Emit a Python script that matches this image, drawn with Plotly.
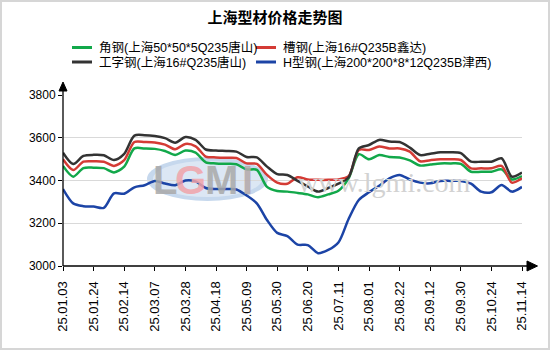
import plotly.graph_objects as go

dates = ["25.01.03","25.01.10","25.01.17","25.01.24","25.01.31","25.02.07","25.02.14","25.02.21",
         "25.02.28","25.03.07","25.03.14","25.03.21","25.03.28","25.04.04","25.04.11","25.04.18",
         "25.04.25","25.04.30","25.05.09","25.05.16","25.05.23","25.05.30","25.06.06","25.06.13",
         "25.06.20","25.06.27","25.07.04","25.07.11","25.07.18","25.07.25","25.08.01","25.08.08",
         "25.08.15","25.08.22","25.08.29","25.09.05","25.09.12","25.09.19","25.09.26","25.09.30",
         "25.10.10","25.10.17","25.10.24","25.10.31","25.11.07","25.11.14"]

tick_labels = ["25.01.03","25.01.24","25.02.14","25.03.07","25.03.28","25.04.18","25.05.09","25.05.30",
               "25.06.20","25.07.11","25.08.01","25.08.22","25.09.12","25.09.30","25.10.24","25.11.14"]

angle_steel = [3468,3418,3458,3460,3458,3438,3465,3550,3550,3548,3538,3519,3540,3530,3485,3480,
               3478,3476,3452,3450,3370,3351,3348,3342,3335,3322,3335,3352,3410,3523,3499,3519,
               3510,3508,3494,3470,3475,3480,3480,3478,3441,3441,3441,3452,3405,3420]
channel_steel = [3499,3449,3488,3490,3488,3468,3495,3580,3580,3578,3568,3546,3571,3560,3512,3508,
                 3506,3505,3480,3478,3426,3390,3385,3415,3405,3403,3403,3405,3420,3543,3543,3559,
                 3550,3550,3535,3490,3495,3499,3499,3496,3457,3457,3457,3468,3390,3410]
i_beam = [3530,3477,3515,3520,3518,3496,3525,3610,3612,3608,3598,3577,3603,3590,3545,3540,
          3538,3535,3510,3508,3465,3430,3426,3398,3372,3348,3365,3385,3415,3550,3566,3590,
          3582,3580,3554,3519,3525,3532,3532,3528,3488,3488,3488,3504,3418,3437]
h_beam = [3360,3293,3280,3278,3272,3340,3338,3368,3378,3398,3386,3378,3400,3396,3365,3360,
          3360,3358,3330,3293,3215,3155,3140,3100,3098,3060,3075,3110,3220,3309,3345,3375,
          3410,3426,3405,3390,3387,3398,3398,3398,3385,3348,3345,3379,3348,3370]

series = [
    ("角钢(上海50*50*5Q235唐山)", angle_steel, "#12a84a"),
    ("槽钢(上海16#Q235B鑫达)", channel_steel, "#d43b35"),
    ("工字钢(上海16#Q235唐山)", i_beam, "#333333"),
    ("H型钢(上海200*200*8*12Q235B津西)", h_beam, "#1c44a6"),
]

W, H = 550, 350
L, R, T, B = 63, 28, 95, 84
PW, PH = W - L - R, H - T - B
FONT = "Liberation Sans, Arial, Noto Sans CJK SC, sans-serif"

def px(xp):
    return (xp - L) / PW

def py(yp):
    return (H - B - yp) / PH

fig = go.Figure()
for name, vals, col in series:
    fig.add_trace(go.Scatter(x=dates, y=vals, name=name, mode="lines",
                             line=dict(color=col, width=2.5, shape="spline", smoothing=0.8),
                             showlegend=False))

shapes = []
annotations = []

# watermark
shapes.append(dict(type="circle", xref="paper", yref="paper", layer="below",
                   x0=px(147), x1=px(268), y0=py(201), y1=py(157),
                   fillcolor="#c6d8ed", line=dict(width=0)))
shapes.append(dict(type="circle", xref="paper", yref="paper", layer="below",
                   x0=px(153), x1=px(262), y0=py(197), y1=py(161),
                   fillcolor="#dce7f4", line=dict(width=0)))
logo_letters = [("L", 165, "#a9a9a9"), ("G", 190, "#f1a4aa"), ("M", 221, "#a9a9a9"), ("I", 247, "#b4a8aa")]
for ch, cx, cc in logo_letters:
    annotations.append(dict(xref="paper", yref="paper", x=px(cx), y=py(180), xanchor="center",
                            yanchor="middle", showarrow=False, text=f"<b>{ch}</b>",
                            font=dict(family="Liberation Sans, Arial", size=40, color=cc), opacity=0.85))
annotations.append(dict(xref="paper", yref="paper", x=px(384), y=py(182), xanchor="center",
                        yanchor="middle", showarrow=False, text="www.lgmi.com",
                        font=dict(family="Liberation Serif, Times New Roman, serif", size=28, color="#d2d2d2")))

# axis lines with arrows
shapes.append(dict(type="line", xref="paper", yref="paper", x0=0, x1=px(528), y0=0, y1=0,
                   line=dict(color="#000000", width=1.3)))
shapes.append(dict(type="line", xref="paper", yref="paper", x0=0, x1=0, y0=0, y1=py(90),
                   line=dict(color="#000000", width=1.3)))
shapes.append(dict(type="path", xref="paper", yref="paper",
                   path=f"M {px(527)},{py(261)} L {px(537.5)},{py(266)} L {px(527)},{py(271)} Z",
                   fillcolor="#000000", line=dict(color="#000000", width=1)))
shapes.append(dict(type="path", xref="paper", yref="paper",
                   path=f"M {px(59)},{py(91)} L {px(63)},{py(82)} L {px(67)},{py(91)} Z",
                   fillcolor="#000000", line=dict(color="#000000", width=1)))

# outer border
shapes.append(dict(type="rect", xref="paper", yref="paper",
                   x0=px(1), x1=px(549), y0=py(349), y1=py(1),
                   line=dict(color="#d6d6d6", width=2)))

# manual legend
legend_pos = [(72, 97, 47.5), (256, 281, 47.5), (72, 97, 62), (256, 281, 62)]
for (lx, tx, ly), (name, vals, col) in zip(legend_pos, series):
    shapes.append(dict(type="line", xref="paper", yref="paper",
                       x0=px(lx), x1=px(lx + 20), y0=py(ly), y1=py(ly),
                       line=dict(color=col, width=3)))
    annotations.append(dict(xref="paper", yref="paper", x=px(tx), y=py(ly), xanchor="left",
                            yanchor="middle", showarrow=False, text=name,
                            font=dict(family=FONT, size=12.5, color="#000000")))

fig.update_layout(
    width=W, height=H, autosize=False,
    margin=dict(l=L, r=R, t=T, b=B, pad=0),
    paper_bgcolor="#ffffff", plot_bgcolor="#ffffff",
    title=dict(text="<b>上海型材价格走势图</b>", x=0.5, xanchor="center", y=1 - 18 / H,
               yanchor="middle", font=dict(family="Noto Sans CJK SC, sans-serif", size=15, color="#000000")),
    font=dict(family=FONT, size=12, color="#000000"),
    shapes=shapes, annotations=annotations,
    xaxis=dict(type="category", categoryorder="array", categoryarray=dates,
               range=[0, len(dates) - 1], tickvals=tick_labels, ticktext=tick_labels,
               tickangle=-90, ticks="outside", ticklen=4, tickcolor="#000000",
               ticklabelstandoff=5,
               showgrid=False, showline=False, zeroline=False,
               tickfont=dict(family=FONT, size=13, color="#000000")),
    yaxis=dict(range=[3000, 3800], tickvals=[3000, 3200, 3400, 3600, 3800],
               ticks="outside", ticklen=4, tickcolor="#000000",
               showgrid=True, gridcolor="#d9d9d9", gridwidth=1, showline=False, zeroline=False,
               tickfont=dict(family=FONT, size=12, color="#000000")),
)

fig.write_html("out.html")
